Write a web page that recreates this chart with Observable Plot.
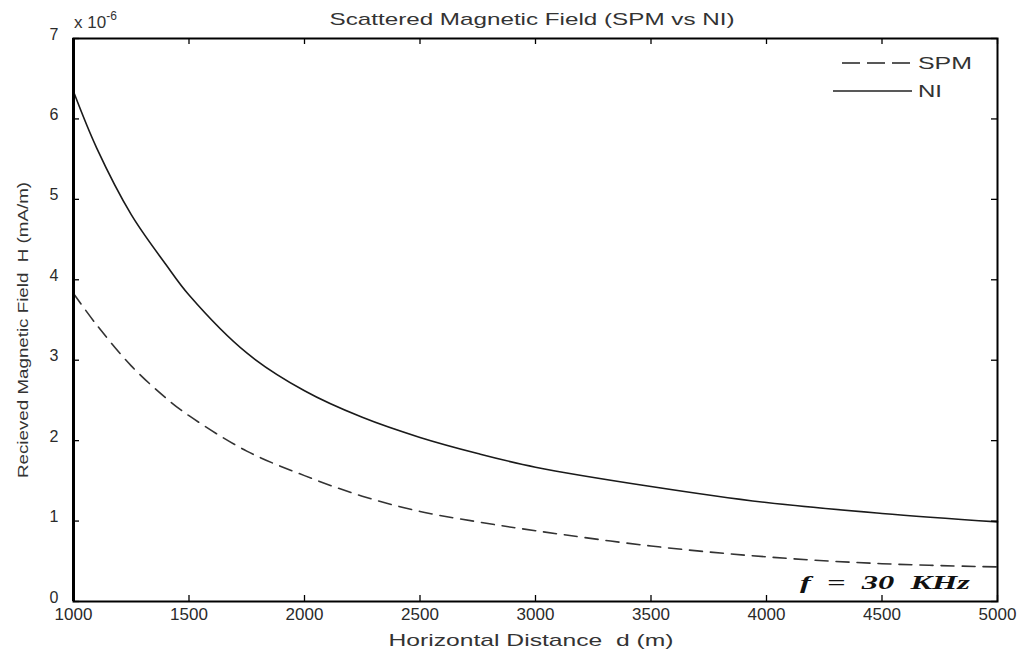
<!DOCTYPE html>
<html><head><meta charset="utf-8">
<script src="https://cdn.jsdelivr.net/npm/d3@7"></script>
<script src="https://cdn.jsdelivr.net/npm/@observablehq/plot@0.6"></script>
<style>
html,body{margin:0;padding:0;background:#fff;}
#chart{position:relative;width:1028px;height:657px;}
svg{font-family:"Liberation Sans",Arial,Helvetica,sans-serif;}
</style></head>
<body><div id="chart"></div>
<script>
// Horizontal distance d (m)
const distance = [1000,1100,1250,1400,1500,1750,2000,2250,2500,2750,3000,3500,4000,4500,5000];
// Received magnetic field H (mA/m), in units of 1e-6
const niValues  = [6.34,5.64,4.81,4.19,3.81,3.09,2.62,2.29,2.04,1.84,1.67,1.43,1.23,1.095,0.99];
const spmValues = [3.83,3.44,2.93,2.53,2.31,1.87,1.565,1.31,1.12,0.99,0.88,0.69,0.555,0.47,0.43];
const xTicks = [1000,1500,2000,2500,3000,3500,4000,4500,5000];
const yTicks = [0,1,2,3,4,5,6,7];
const seriesNames = ["SPM","NI"];

const W = 1028, H = 657, mL = 73, mR = 31, mT = 38, mB = 56;
const pw = W - mL - mR, ph = H - mT - mB;

const spmData = distance.map((d,i)=>({d, h: spmValues[i]}));
const niData  = distance.map((d,i)=>({d, h: niValues[i]}));
const txt = "#2a2a2a";

const chart = Plot.plot({
  width: W, height: H,
  marginLeft: mL, marginRight: mR, marginTop: mT, marginBottom: mB,
  x: {domain: [1000,5000], axis: null},
  y: {domain: [0,7], axis: null},
  style: {background: "#fff", color: txt},
  marks: [
    Plot.line(niData, {x: "d", y: "h", stroke: "#1a1a1a", strokeWidth: 1.6, curve: "catmull-rom"}),
    Plot.line(spmData, {x: "d", y: "h", stroke: "#333", strokeWidth: 1.6, strokeDasharray: "13,8", curve: "catmull-rom"}),
    // inward ticks (MATLAB style)
    Plot.tickX(xTicks, {x: d=>d, insetTop: ph-6, stroke: "#000", strokeWidth: 1.3}),
    Plot.tickX(xTicks, {x: d=>d, insetBottom: ph-6, stroke: "#000", strokeWidth: 1.3}),
    Plot.tickY(yTicks, {y: d=>d, insetRight: pw-6, stroke: "#000", strokeWidth: 1.3}),
    Plot.tickY(yTicks, {y: d=>d, insetLeft: pw-6, stroke: "#000", strokeWidth: 1.3}),
    Plot.frame({stroke: "#000", strokeWidth: 2}),
    Plot.ruleX([1000], {stroke: "#000", strokeWidth: 3}),
    // tick labels
    Plot.text(xTicks, {x: d=>d, frameAnchor: "bottom", dy: 18, fontSize: 17, fill: txt, text: d=>String(d)}),
    Plot.text(yTicks, {y: d=>d, frameAnchor: "left", dx: -15, textAnchor: "end", fontSize: 16, dy: -4, fill: txt, text: d=>String(d)})
  ]
});
document.getElementById("chart").appendChild(chart);

const svg = d3.select(chart);
const cx = mL + pw/2;
// title
svg.append("text").attr("x", cx - 3).attr("y", 25).attr("text-anchor","middle")
  .attr("font-size", 17).attr("fill", "#333").attr("textLength", 405).attr("lengthAdjust","spacingAndGlyphs")
  .text("Scattered Magnetic Field (SPM vs NI)");
// x label
svg.append("text").attr("x", cx - 4).attr("y", 646).attr("text-anchor","middle")
  .attr("font-size", 17).attr("fill", "#333").attr("textLength", 285).attr("lengthAdjust","spacingAndGlyphs")
  .text("Horizontal Distance  d (m)");
// y label
svg.append("text").attr("transform", "translate(28,330) rotate(-90)").attr("text-anchor","middle")
  .attr("font-size", 15).attr("fill", "#333").attr("textLength", 296).attr("lengthAdjust","spacingAndGlyphs")
  .text("Recieved Magnetic Field  H (mA/m)");
// exponent
const ex = svg.append("text").attr("x", mL + 1).attr("y", 28).attr("text-anchor","start")
  .attr("font-size", 17).attr("fill", "#333");
ex.append("tspan").text("x 10");
ex.append("tspan").attr("dy", -8).attr("font-size", 12).text("-6");
// annotation
svg.append("text").attr("x", mL + pw - 27).attr("y", 589).attr("text-anchor","end")
  .attr("font-size", 18).attr("font-weight","bold").attr("font-style","italic")
  .attr("font-family","'Liberation Serif','Times New Roman',serif").attr("fill","#111")
  .attr("textLength", 170).attr("lengthAdjust","spacingAndGlyphs")
  .attr("xml:space","preserve").style("white-space","pre")
  .text("f  =  30  KHz");

// legend
const lg = svg.append("g").attr("transform", `translate(${mL + pw - 164},0)`);
const rows = [{name: seriesNames[0], dash: "18,7", y: 63, x0: 9, len: 54}, {name: seriesNames[1], dash: null, y: 91, x0: 0, len: 24}];
rows.forEach(r => {
  lg.append("line").attr("x1", r.x0).attr("x2", 79).attr("y1", r.y).attr("y2", r.y)
    .attr("stroke", "#222").attr("stroke-width", 1.6).attr("stroke-dasharray", r.dash);
  lg.append("text").attr("x", 85).attr("y", r.y + 6).attr("text-anchor","start")
    .attr("font-size", 17).attr("fill", "#333")
    .attr("textLength", r.len).attr("lengthAdjust","spacingAndGlyphs").text(r.name);
});
</script></body></html>
